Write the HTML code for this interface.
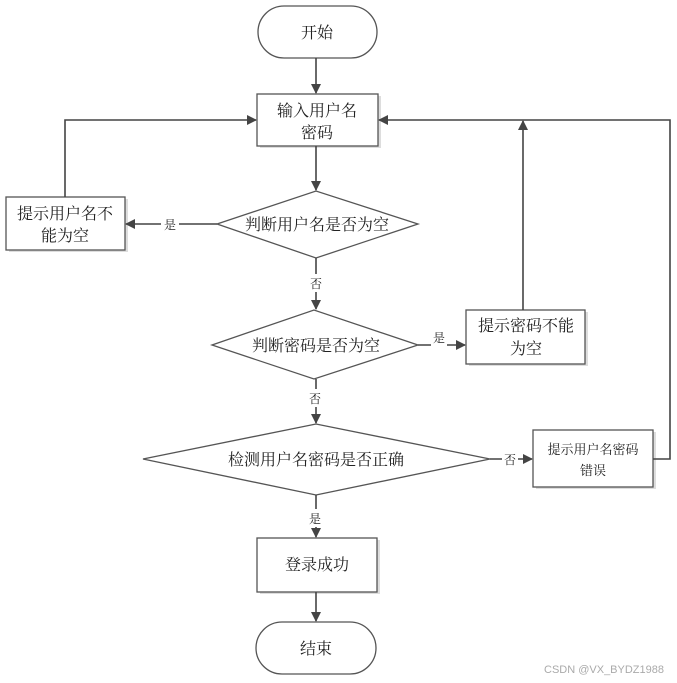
<!DOCTYPE html>
<html><head><meta charset="utf-8"><style>
html,body{margin:0;padding:0;background:#fff;}
svg{display:block}
text{font-family:"Liberation Serif","Noto Serif CJK SC","Noto Sans CJK SC",serif;fill:#222;}
</style></head><body>
<svg width="677" height="683" viewBox="0 0 677 683" xmlns="http://www.w3.org/2000/svg">
<defs>
<marker id="a" markerWidth="10" markerHeight="10" refX="9" refY="5" orient="auto" markerUnits="userSpaceOnUse"><path d="M0,0 L10,5 L0,10 Z" fill="#444"/></marker>
</defs>
<g fill="#ddd" stroke="none">
<rect x="260" y="96" width="121" height="52"/>
<rect x="9" y="199" width="119" height="53"/>
<rect x="469" y="312" width="119" height="54"/>
<rect x="536" y="432" width="120" height="57"/>
<rect x="260" y="540" width="120" height="54"/>
</g>
<g fill="#fff" stroke="#555" stroke-width="1.3">
<rect x="258" y="6" width="119" height="52" rx="26"/>
<rect x="257" y="94" width="121" height="52"/>
<polygon points="217,224 316,191 418,224 316,258"/>
<rect x="6" y="197" width="119" height="53"/>
<polygon points="212,345 314,310 418,345 314,379"/>
<rect x="466" y="310" width="119" height="54"/>
<polygon points="143,459 316,424 490,459 316,495"/>
<rect x="533" y="430" width="120" height="57"/>
<rect x="257" y="538" width="120" height="54"/>
<rect x="256" y="622" width="120" height="52" rx="26"/>
</g>
<g stroke="#444" stroke-width="1.6" fill="none">
<line x1="316" y1="58" x2="316" y2="93" marker-end="url(#a)"/>
<line x1="316" y1="146" x2="316" y2="190" marker-end="url(#a)"/>
<line x1="217" y1="224" x2="126" y2="224" marker-end="url(#a)"/>
<polyline points="65,197 65,120 256,120" marker-end="url(#a)"/>
<line x1="316" y1="258" x2="316" y2="309" marker-end="url(#a)"/>
<line x1="418" y1="345" x2="465" y2="345" marker-end="url(#a)"/>
<line x1="523" y1="310" x2="523" y2="121" marker-end="url(#a)"/>
<line x1="316" y1="379" x2="316" y2="423" marker-end="url(#a)"/>
<line x1="490" y1="459" x2="532" y2="459" marker-end="url(#a)"/>
<polyline points="653,459 670,459 670,120 379,120" marker-end="url(#a)"/>
<line x1="316" y1="495" x2="316" y2="537" marker-end="url(#a)"/>
<line x1="316" y1="592" x2="316" y2="621" marker-end="url(#a)"/>
</g>
<g fill="#fff">
<rect x="161" y="216" width="18" height="16"/>
<rect x="308" y="274" width="16" height="18"/>
<rect x="431" y="337" width="16" height="16"/>
<rect x="307" y="389" width="16" height="18"/>
<rect x="502" y="451" width="16" height="16"/>
<rect x="307" y="509" width="16" height="18"/>
</g>
<g font-size="12" text-anchor="middle">
<text x="170" y="229">是</text>
<text x="316" y="288">否</text>
<text x="439" y="342">是</text>
<text x="315" y="403">否</text>
<text x="510" y="464">否</text>
<text x="315" y="523">是</text>
</g>
<g font-size="16" text-anchor="middle">
<text x="317" y="38">开始</text>
<text x="317" y="116">输入用户名</text>
<text x="317" y="138">密码</text>
<text x="317" y="230">判断用户名是否为空</text>
<text x="65" y="219">提示用户名不</text>
<text x="65" y="241">能为空</text>
<text x="316" y="351">判断密码是否为空</text>
<text x="526" y="331">提示密码不能</text>
<text x="526" y="354">为空</text>
<text x="316" y="465">检测用户名密码是否正确</text>
<text x="317" y="570">登录成功</text>
<text x="316" y="654">结束</text>
</g>
<g font-size="13" text-anchor="middle">
<text x="593" y="454">提示用户名密码</text>
<text x="593" y="475">错误</text>
</g>
<text x="604" y="673" font-size="11" text-anchor="middle" style="fill:#aaa;font-family:'Liberation Sans',sans-serif">CSDN @VX_BYDZ1988</text>
</svg>
</body></html>
